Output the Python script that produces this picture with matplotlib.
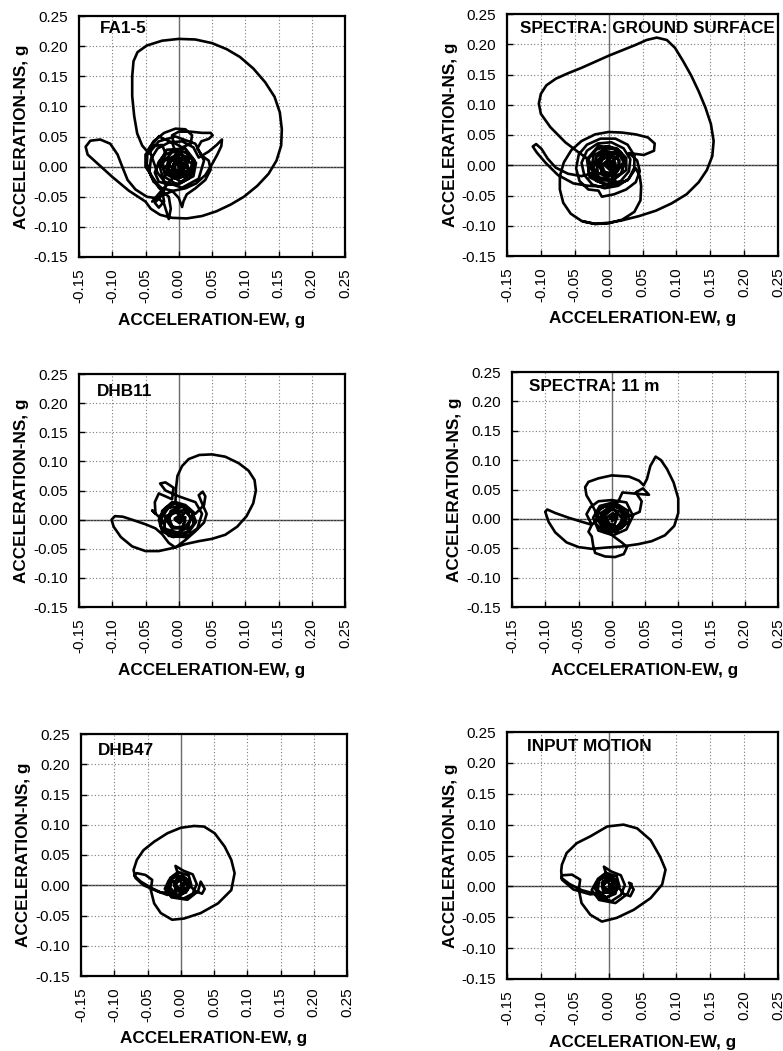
import numpy as np
import matplotlib
matplotlib.use("Agg")
import matplotlib.pyplot as plt

plt.rcParams['font.family'] = ['Liberation Sans', 'DejaVu Sans']

# Axis ticks (g)
ew_ticks = [-0.15, -0.10, -0.05, 0.00, 0.05, 0.10, 0.15, 0.20, 0.25]
ns_ticks = [-0.15, -0.10, -0.05, 0.00, 0.05, 0.10, 0.15, 0.20, 0.25]

# Panel titles
titles = ["FA1-5", "SPECTRA: GROUND SURFACE", "DHB11", "SPECTRA: 11 m",
          "DHB47", "INPUT MOTION"]

# Particle orbits: (EW, NS) acceleration pairs in g
fa15_path = [
    (0.000, 0.000), (0.010, 0.008), (0.004, 0.020), (-0.012, 0.012), (-0.015, -0.006),
    (0.000, -0.018), (0.018, -0.010), (0.024, 0.010), (0.010, 0.030), (-0.018, 0.028),
    (-0.030, 0.005), (-0.022, -0.025), (0.005, -0.035), (0.030, -0.020), (0.038, 0.010),
    (0.025, 0.038), (-0.005, 0.050), (-0.030, 0.042), (-0.045, 0.022),
    (-0.055, 0.035), (-0.0625, 0.055), (-0.067, 0.084), (-0.070, 0.117), (-0.070, 0.150),
    (-0.068, 0.175), (-0.062, 0.190), (-0.048, 0.201), (-0.025, 0.209), (0.000, 0.212),
    (0.025, 0.211), (0.050, 0.205), (0.072, 0.195), (0.092, 0.182), (0.112, 0.163),
    (0.130, 0.140), (0.144, 0.116), (0.152, 0.090), (0.155, 0.062), (0.154, 0.035),
    (0.147, 0.010), (0.135, -0.012), (0.118, -0.032), (0.098, -0.050), (0.078, -0.063),
    (0.057, -0.074), (0.035, -0.082), (0.012, -0.086), (-0.010, -0.085), (-0.028, -0.080),
    (-0.042, -0.070), (-0.050, -0.058),
    (-0.075, -0.040), (-0.100, -0.017), (-0.122, 0.005), (-0.137, 0.020), (-0.140, 0.033),
    (-0.133, 0.043), (-0.118, 0.045), (-0.103, 0.038), (-0.092, 0.020), (-0.085, 0.000),
    (-0.077, -0.022), (-0.065, -0.038), (-0.048, -0.050), (-0.030, -0.053),
    (-0.022, -0.062), (-0.015, -0.087), (-0.012, -0.070), (-0.015, -0.050), (-0.030, -0.035),
    (-0.042, -0.015), (-0.048, 0.005), (-0.047, 0.025), (-0.038, 0.042), (-0.022, 0.056),
    (-0.005, 0.063), (0.010, 0.062), (0.020, 0.052), (0.018, 0.038), (0.005, 0.032),
    (-0.008, 0.040), (-0.010, 0.052), (0.000, 0.058), (0.018, 0.058), (0.035, 0.056),
    (0.048, 0.056), (0.051, 0.052), (0.045, 0.046), (0.034, 0.042), (0.028, 0.030),
    (0.035, 0.018), (0.045, 0.010), (0.048, -0.005), (0.040, -0.022), (0.025, -0.036),
    (0.012, -0.046), (0.007, -0.058), (0.005, -0.067), (0.000, -0.052), (-0.010, -0.040),
    (-0.025, -0.036), (-0.038, -0.025), (-0.044, -0.008), (-0.042, 0.012), (-0.032, 0.030),
    (-0.015, 0.040), (0.005, 0.042), (0.022, 0.032), (0.030, 0.015), (0.045, 0.025),
    (0.057, 0.036), (0.065, 0.045), (0.064, 0.034), (0.058, 0.020), (0.050, 0.004),
    (0.040, -0.014), (0.026, -0.028), (0.010, -0.036), (-0.008, -0.040), (-0.026, -0.048),
    (-0.036, -0.060), (-0.030, -0.068), (-0.022, -0.058), (-0.025, -0.040), (-0.038, -0.020),
    (-0.050, 0.000), (-0.050, 0.020), (-0.040, 0.034), (-0.025, 0.036), (-0.020, 0.022),
    (-0.030, 0.008), (-0.036, -0.010), (-0.030, -0.025), (-0.015, -0.030), (0.002, -0.028),
    (0.015, -0.020), (0.022, -0.005), (0.020, 0.012), (0.010, 0.024), (-0.005, 0.028),
    (-0.020, 0.020), (-0.026, 0.004), (-0.020, -0.012), (-0.006, -0.020), (0.008, -0.016),
    (0.014, -0.004), (0.010, 0.010), (-0.002, 0.016), (-0.014, 0.010), (-0.016, -0.004),
    (-0.008, -0.012), (0.004, -0.010), (0.008, 0.000), (0.002, 0.008), (-0.008, 0.004),
    (-0.006, -0.006), (0.002, -0.004), (0.000, 0.002),
    (0.012, 0.006), (0.015, -0.008), (0.002, -0.015), (-0.010, -0.006), (-0.006, 0.010),
    (0.008, 0.016), (0.020, 0.004), (0.014, -0.014), (-0.004, -0.020), (-0.018, -0.008),
    (-0.016, 0.012), (0.000, 0.022), (0.016, 0.014), (0.010, -0.002), (-0.004, 0.004),
    (-0.012, -0.014), (0.004, -0.026), (0.022, -0.016), (0.026, 0.006), (0.012, 0.024),
    (-0.010, 0.024), (-0.024, 0.006), (-0.020, -0.018), (-0.002, -0.030), (0.012, -0.018),
    (0.006, 0.002), (-0.008, 0.012), (-0.020, 0.000), (-0.012, -0.010), (0.006, -0.008),
    (0.004, 0.010), (-0.006, 0.018), (-0.016, 0.004), (-0.004, -0.006),
    (-0.010, -0.020), (-0.030, -0.045), (-0.040, -0.058), (-0.028, -0.050), (-0.018, -0.030),
    (-0.032, -0.010), (-0.045, 0.030), (-0.030, 0.050), (-0.010, 0.040), (0.000, 0.010),
    (0.000, 0.000),
]

ground_surface_path = [
    (0.000, 0.000), (0.010, 0.010), (0.000, 0.020), (-0.015, 0.008), (-0.010, -0.012),
    (0.010, -0.015), (0.022, 0.005), (0.012, 0.028), (-0.015, 0.032), (-0.032, 0.010),
    (-0.028, -0.020), (0.000, -0.035), (0.028, -0.025), (0.040, -0.005), (0.046, -0.018),
    (0.048, -0.035), (0.047, -0.058), (0.038, -0.077), (0.020, -0.090), (0.000, -0.096),
    (-0.020, -0.097), (-0.040, -0.092), (-0.056, -0.080), (-0.067, -0.062), (-0.072, -0.040),
    (-0.072, -0.018), (-0.066, 0.005), (-0.055, 0.025), (-0.040, 0.040), (-0.020, 0.051),
    (0.000, 0.055), (0.020, 0.054), (0.040, 0.051), (0.058, 0.046), (0.068, 0.036),
    (0.067, 0.024), (0.052, 0.017), (0.030, 0.020),
    (0.042, 0.008), (0.046, -0.010), (0.040, -0.028), (0.026, -0.040), (0.008, -0.048),
    (-0.010, -0.052), (-0.015, -0.042), (-0.030, -0.040), (-0.043, -0.026), (-0.048, -0.005),
    (-0.044, 0.018), (-0.032, 0.034), (-0.012, 0.044), (0.010, 0.044), (0.028, 0.034),
    (0.038, 0.016), (0.038, -0.004), (0.030, -0.022), (0.014, -0.034), (-0.006, -0.038),
    (-0.024, -0.032), (-0.036, -0.016), (-0.040, 0.004), (-0.032, 0.024), (-0.016, 0.036),
    (0.004, 0.038), (0.022, 0.028), (0.032, 0.010), (0.030, -0.010), (0.018, -0.026),
    (0.000, -0.032), (-0.018, -0.026), (-0.030, -0.010), (-0.030, 0.010), (-0.018, 0.026),
    (0.000, 0.032), (0.018, 0.022), (0.024, 0.004), (0.018, -0.014), (0.002, -0.024),
    (-0.014, -0.020), (-0.022, -0.004), (-0.018, 0.014), (-0.004, 0.024), (0.012, 0.018),
    (0.016, 0.002), (0.008, -0.012), (-0.006, -0.014), (-0.014, -0.002), (-0.008, 0.012),
    (0.006, 0.012), (0.010, 0.000), (0.002, -0.008), (-0.006, 0.000), (0.000, 0.006),
    (0.010, 0.004), (0.006, -0.014), (-0.010, -0.010), (-0.012, 0.008), (0.004, 0.018),
    (0.016, 0.008), (0.012, -0.010), (-0.002, -0.020), (-0.016, -0.012), (-0.018, 0.006),
    (-0.006, 0.020), (0.010, 0.022), (0.022, 0.010), (0.020, -0.012), (0.004, -0.026),
    (-0.016, -0.024), (-0.026, -0.006), (-0.022, 0.016), (-0.004, 0.028), (0.014, 0.026),
    (0.026, 0.012), (0.026, -0.008), (0.012, -0.020), (-0.004, -0.016), (-0.010, 0.000),
    (0.000, 0.010), (0.008, 0.002), (0.000, -0.004), (0.000, 0.000),
    (0.010, -0.025), (-0.010, -0.035), (-0.030, -0.034), (-0.052, -0.030), (-0.075, -0.016),
    (-0.093, 0.004), (-0.106, 0.021), (-0.112, 0.031), (-0.107, 0.035), (-0.099, 0.027),
    (-0.090, 0.011), (-0.078, -0.004), (-0.060, -0.014), (-0.040, -0.018), (-0.020, -0.012),
    (-0.030, 0.010), (-0.044, 0.021),
    (-0.064, 0.038), (-0.086, 0.063), (-0.100, 0.085), (-0.103, 0.102), (-0.100, 0.118),
    (-0.092, 0.132), (-0.078, 0.143), (-0.060, 0.152), (-0.040, 0.161), (-0.020, 0.171),
    (0.000, 0.181), (0.020, 0.190), (0.040, 0.199), (0.056, 0.207), (0.071, 0.211),
    (0.086, 0.207), (0.098, 0.194), (0.110, 0.172), (0.122, 0.148), (0.133, 0.122),
    (0.143, 0.095), (0.151, 0.068), (0.155, 0.040), (0.153, 0.015), (0.145, -0.008),
    (0.133, -0.028), (0.115, -0.048), (0.093, -0.063), (0.070, -0.075), (0.045, -0.084),
    (0.020, -0.091), (0.000, -0.095), (-0.020, -0.097), (-0.038, -0.093),
]

dhb11_path = [
    (0.000, 0.000), (0.008, 0.010), (-0.005, 0.018), (-0.015, 0.005), (-0.010, -0.012),
    (0.008, -0.015), (0.018, 0.000), (0.012, 0.020), (-0.010, 0.030), (-0.025, 0.015),
    (-0.028, -0.010), (-0.015, -0.028), (0.010, -0.030), (0.028, -0.015), (0.035, 0.010),
    (0.025, 0.030), (0.000, 0.040),
    (-0.020, 0.050), (-0.028, 0.062), (-0.020, 0.064), (-0.008, 0.055), (-0.010, 0.035),
    (-0.030, 0.045), (-0.036, 0.030), (-0.035, 0.010), (-0.040, 0.016), (-0.030, 0.005),
    (-0.005, 0.030), (-0.004, 0.055), (-0.002, 0.075), (0.005, 0.092), (0.015, 0.104),
    (0.031, 0.111), (0.050, 0.112), (0.070, 0.108), (0.090, 0.097), (0.105, 0.084),
    (0.114, 0.068), (0.116, 0.050), (0.112, 0.028), (0.102, 0.006), (0.088, -0.012),
    (0.070, -0.026), (0.050, -0.033), (0.030, -0.037), (0.010, -0.042), (-0.010, -0.049),
    (-0.030, -0.054), (-0.050, -0.054), (-0.070, -0.046), (-0.087, -0.030), (-0.098, -0.012),
    (-0.101, 0.000), (-0.096, 0.006), (-0.084, 0.005), (-0.068, -0.001), (-0.050, -0.008),
    (-0.035, -0.015), (-0.025, -0.025),
    (-0.015, -0.040), (-0.005, -0.048), (0.010, -0.035), (0.025, -0.020), (0.038, -0.005),
    (0.042, 0.010), (0.035, 0.028), (0.030, 0.042), (0.036, 0.048), (0.040, 0.040),
    (0.038, 0.025), (0.025, 0.010), (0.010, 0.025), (-0.005, 0.030), (-0.020, 0.020),
    (-0.030, 0.000), (-0.025, -0.020), (-0.008, -0.030), (0.010, -0.025), (0.022, -0.008),
    (0.020, 0.012), (0.005, 0.022), (-0.012, 0.015), (-0.018, -0.002), (-0.010, -0.015),
    (0.005, -0.015), (0.010, -0.002), (0.002, 0.008), (-0.006, 0.002), (0.000, -0.005),
    (0.010, 0.004), (0.006, -0.012), (-0.008, -0.014), (-0.016, 0.000), (-0.008, 0.014),
    (0.008, 0.016), (0.018, 0.004), (0.014, -0.014), (-0.002, -0.022), (-0.020, -0.016),
    (-0.026, 0.002), (-0.016, 0.020), (0.004, 0.024), (0.020, 0.014), (0.026, -0.004),
    (0.016, -0.020), (-0.004, -0.026), (-0.022, -0.018), (-0.020, 0.006), (-0.004, 0.012),
    (0.008, 0.004), (0.002, -0.006), (-0.006, 0.000), (0.000, 0.004),
]

spectra_11m_path = [
    (0.000, 0.000), (0.010, 0.008), (0.002, 0.018), (-0.012, 0.010), (-0.012, -0.008),
    (0.004, -0.016), (0.018, -0.005), (0.018, 0.015), (0.002, 0.028), (-0.018, 0.022),
    (-0.028, 0.002), (-0.020, -0.020), (0.002, -0.028), (0.022, -0.018), (0.032, 0.005),
    (0.022, 0.028), (0.000, 0.032), (-0.020, 0.030), (-0.032, 0.020), (-0.038, 0.008),
    (-0.030, -0.010), (-0.035, -0.022), (-0.030, -0.030),
    (-0.028, -0.045), (-0.025, -0.058), (-0.010, -0.064), (0.005, -0.065), (0.018, -0.060),
    (0.023, -0.048), (0.015, -0.040), (0.003, -0.030),
    (-0.015, -0.010), (-0.030, 0.025), (-0.038, 0.040), (-0.040, 0.054), (-0.035, 0.063),
    (-0.020, 0.069), (0.000, 0.074), (0.026, 0.072), (0.041, 0.065), (0.048, 0.057),
    (0.053, 0.068), (0.058, 0.090), (0.066, 0.106), (0.074, 0.100), (0.083, 0.085),
    (0.093, 0.062), (0.100, 0.035), (0.100, 0.010), (0.094, -0.012), (0.080, -0.028),
    (0.060, -0.038), (0.040, -0.043), (0.015, -0.047), (-0.010, -0.049), (-0.030, -0.051),
    (-0.050, -0.048), (-0.068, -0.040), (-0.085, -0.023), (-0.095, -0.005), (-0.100, 0.012),
    (-0.097, 0.016), (-0.085, 0.010), (-0.065, 0.002), (-0.045, -0.005), (-0.030, -0.010),
    (-0.010, 0.010), (0.010, 0.030), (0.016, 0.045), (0.035, 0.043), (0.056, 0.041),
    (0.047, 0.052), (0.036, 0.045), (0.045, 0.030), (0.042, 0.012), (0.028, 0.005),
    (0.015, 0.015), (0.000, 0.025), (-0.018, 0.018), (-0.022, 0.000), (-0.012, -0.018),
    (0.008, -0.020), (0.018, -0.005), (0.014, 0.012), (0.000, 0.016), (-0.010, 0.006),
    (-0.008, -0.008), (0.004, -0.010), (0.008, 0.002), (0.000, 0.006), (-0.003, 0.000),
    (0.008, 0.010), (0.016, 0.000), (0.010, -0.012), (-0.004, -0.016), (-0.016, -0.006),
    (-0.016, 0.010), (-0.004, 0.020), (0.012, 0.020), (0.022, 0.008), (0.020, -0.010),
    (0.006, -0.022), (-0.012, -0.022), (-0.024, -0.008), (-0.022, 0.012), (-0.008, 0.024),
    (0.010, 0.024), (0.024, 0.014), (0.026, -0.004), (0.014, -0.016), (-0.002, -0.012),
    (-0.008, 0.002), (0.002, 0.010), (0.008, 0.002), (0.000, -0.004),
]

dhb47_path = [
    (0.000, 0.000), (0.008, 0.008), (0.000, 0.014), (-0.010, 0.006), (-0.008, -0.008),
    (0.006, -0.012), (0.016, 0.000), (0.012, 0.016), (-0.004, 0.022), (-0.016, 0.012),
    (-0.020, -0.004), (-0.012, -0.018), (0.004, -0.022), (0.018, -0.014), (0.024, 0.002),
    (0.018, 0.018), (0.004, 0.024), (-0.008, 0.032), (-0.004, 0.018), (-0.018, 0.008),
    (-0.024, -0.006), (-0.014, -0.020), (0.010, -0.024), (0.026, -0.010), (0.030, 0.006),
    (0.036, -0.006), (0.032, -0.014), (0.022, -0.010), (0.015, -0.002),
    (-0.005, -0.010), (-0.020, -0.016), (-0.035, -0.010), (-0.056, 0.000), (-0.068, 0.012),
    (-0.071, 0.025), (-0.066, 0.042), (-0.056, 0.058), (-0.040, 0.072), (-0.020, 0.086),
    (0.000, 0.095), (0.020, 0.098), (0.035, 0.097), (0.051, 0.086), (0.066, 0.064),
    (0.076, 0.042), (0.081, 0.020), (0.076, -0.008), (0.056, -0.030), (0.030, -0.046),
    (0.005, -0.055), (-0.013, -0.057), (-0.030, -0.046), (-0.040, -0.030), (-0.045, -0.008),
    (-0.043, 0.009), (-0.053, 0.017), (-0.066, 0.020), (-0.070, 0.016), (-0.060, 0.006),
    (-0.045, -0.004), (-0.030, -0.012), (-0.015, -0.012),
    (-0.002, -0.018), (0.010, -0.008), (0.008, 0.008), (-0.004, 0.010), (-0.008, 0.000),
    (0.000, -0.006), (0.004, 0.002),
    (0.006, 0.004), (0.002, -0.008), (-0.008, -0.004), (-0.006, 0.008), (0.006, 0.012),
    (0.014, 0.002), (0.008, -0.012), (-0.006, -0.016), (-0.016, -0.004), (-0.012, 0.012),
    (0.002, 0.016), (0.012, 0.008), (0.010, -0.006), (-0.002, -0.010), (-0.010, 0.000),
    (-0.002, 0.008), (0.004, 0.000),
]

input_motion_path = [
    (0.000, 0.000), (0.008, 0.008), (0.000, 0.014), (-0.010, 0.006), (-0.008, -0.008),
    (0.006, -0.012), (0.016, 0.000), (0.012, 0.016), (-0.004, 0.022), (-0.016, 0.012),
    (-0.020, -0.004), (-0.012, -0.018), (0.004, -0.024), (0.018, -0.014), (0.024, 0.002),
    (0.018, 0.018), (0.004, 0.024), (-0.007, 0.032), (-0.003, 0.018), (-0.018, 0.008),
    (-0.025, -0.006), (-0.014, -0.022), (0.010, -0.027), (0.028, -0.012), (0.034, 0.004),
    (0.030, 0.006), (0.037, -0.005), (0.032, -0.016), (0.022, -0.012), (0.015, -0.002),
    (-0.005, -0.010), (-0.027, -0.013), (-0.052, -0.005), (-0.069, 0.011), (-0.070, 0.025),
    (-0.069, 0.035), (-0.062, 0.054), (-0.047, 0.070), (-0.027, 0.081), (-0.002, 0.097),
    (0.022, 0.100), (0.042, 0.094), (0.062, 0.075), (0.076, 0.048), (0.084, 0.027),
    (0.079, 0.003), (0.062, -0.019), (0.037, -0.038), (0.012, -0.051), (-0.010, -0.057),
    (-0.027, -0.046), (-0.040, -0.027), (-0.044, -0.005), (-0.042, 0.011), (-0.054, 0.019),
    (-0.068, 0.018), (-0.070, 0.014), (-0.058, 0.004), (-0.040, -0.006), (-0.020, -0.012),
    (-0.002, -0.018), (0.010, -0.008), (0.008, 0.008), (-0.004, 0.010), (-0.008, 0.000),
    (0.000, -0.006), (0.004, 0.002),
    (0.008, 0.006), (0.004, -0.008), (-0.008, -0.006), (-0.008, 0.008), (0.004, 0.014),
    (0.014, 0.004), (0.010, -0.012), (-0.004, -0.018), (-0.016, -0.006), (-0.014, 0.010),
    (0.000, 0.018), (0.012, 0.010), (0.010, -0.004), (-0.002, -0.010), (-0.010, 0.000),
    (-0.002, 0.008), (0.004, 0.000),
]

paths = [fa15_path, ground_surface_path, dhb11_path, spectra_11m_path,
         dhb47_path, input_motion_path]

W, H = 783, 1051
# axes boxes in pixels: left, top, right, bottom
boxes = [
    (79, 16, 345, 257), (507, 14, 778, 256),
    (79, 374, 345, 607), (512, 372, 778, 607),
    (81, 734, 347, 976), (507, 732, 778, 979),
]
title_pos = [(0.08, 0.95), (0.048, 0.942), (0.068, 0.927),
             (0.064, 0.94), (0.064, 0.93), (0.074, 0.943)]

fig = plt.figure(figsize=(W / 100, H / 100), dpi=100)

for path, box, title, tp in zip(paths, boxes, titles, title_pos):
    l, t, r, b = box
    ax = fig.add_axes([l / W, 1 - b / H, (r - l) / W, (b - t) / H])
    ax.set_xlim(-0.15, 0.25)
    ax.set_ylim(-0.15, 0.25)
    ax.set_xticks(ew_ticks)
    ax.set_yticks(ns_ticks)
    ax.set_xticklabels([f"{v:.2f}" for v in ew_ticks], rotation=90)
    ax.set_yticklabels([f"{v:.2f}" for v in ns_ticks])
    ax.tick_params(direction='in', length=4, width=1.0, labelsize=11, pad=8,
                   colors='black')
    ax.grid(True, linestyle=(0, (1, 2)), color='#7a7a7a', linewidth=0.8)
    ax.axhline(0, color='#333333', linewidth=1.0, zorder=1.5)
    ax.axvline(0, color='#666666', linewidth=1.0, zorder=1.5)
    for sp in ax.spines.values():
        sp.set_linewidth(1.6)
        sp.set_color('black')

    pts = np.array(path)
    ax.plot(pts[:, 0], pts[:, 1], color='black', linewidth=1.9,
            solid_joinstyle='round', solid_capstyle='round', zorder=3)

    ax.text(tp[0], tp[1], title, transform=ax.transAxes, fontsize=12.3,
            fontweight='bold', ha='left', va='center', zorder=4)

    ax.set_xlabel("ACCELERATION-EW, g", fontsize=12.3, fontweight='bold')
    ax.set_ylabel("ACCELERATION-NS, g", fontsize=12.3, fontweight='bold')
    ax.xaxis.set_label_coords(0.5, -63 / (b - t))
    ax.xaxis.label.set_va('center')
    ax.yaxis.set_label_coords(-57 / (r - l), 0.5)
    ax.yaxis.label.set_va('center')

fig.savefig("out.png", dpi=100)
